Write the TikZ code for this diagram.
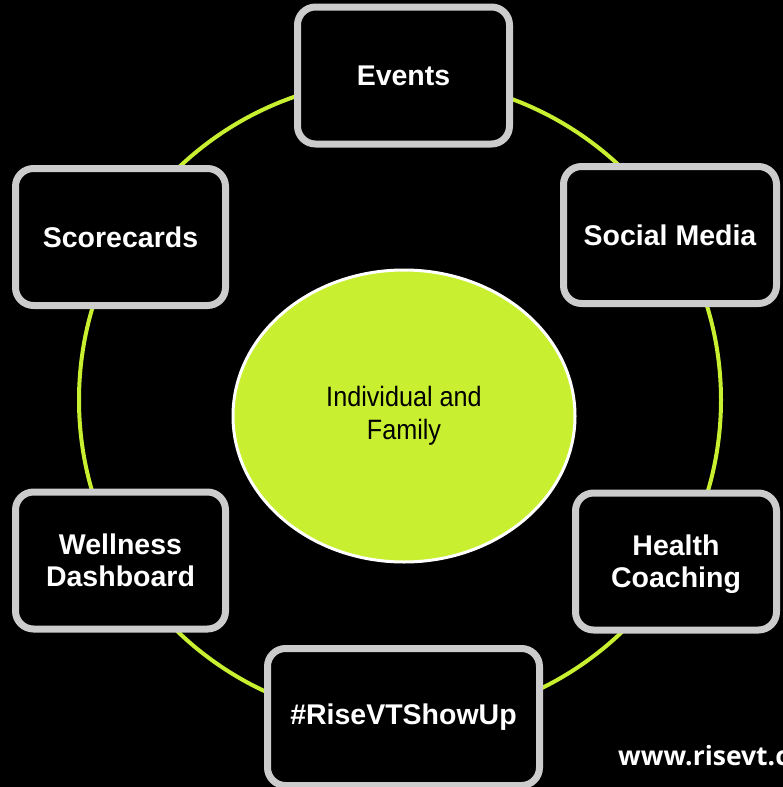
\documentclass[tikz,border=0pt]{standalone}
\usepackage{fontspec}
\setmainfont{Liberation Sans}
\newfontfamily\webfont{Open Sans}
\usetikzlibrary{shapes.geometric}
\definecolor{lime}{HTML}{C8F031}
\definecolor{frame}{HTML}{CCCCCC}
\begin{document}
\begin{tikzpicture}[x=1pt,y=-1pt,
  topictext/.style={text=white, align=center, inner sep=0pt,
    font=\fontsize{28.5}{32}\selectfont\bfseries},
  topic/.style={topictext, draw=frame, line width=7pt, fill=black,
    rounded corners=18pt, rectangle, minimum height=137pt},
  hub/.style={ellipse, draw=white, line width=3pt, fill=lime, inner sep=0pt,
    minimum width=342pt, minimum height=292pt, align=center,
    font=\fontsize{28}{33}\selectfont},
  ring/.style={draw=lime, line width=4pt}]
\useasboundingbox (0,0) rectangle (783,787);
\clip (0,0) rectangle (783,787);
\fill[black] (0,0) rectangle (783,787);

% outer ring linking the six topics
\coordinate (ringc) at (400,400);
\draw[ring] (ringc) circle[radius=321pt];

% centre
\node[hub] (core) at (404,416) {\scalebox{0.9}[1]{Individual and}\\\scalebox{0.9}[1]{Family}};

% topics around the ring
\node[topic, minimum width=212pt] (events) at (403.5,75.5) {Events};
\node[topic, minimum width=213pt] (social) at (670,235) {Social Media};
\node[topic, minimum width=201pt] (health) at (676,561.5) {};
\node[topictext] (healthtext) at ([yshift=-3pt]health.center) {Health\\Coaching};
\node[topic, minimum width=272pt] (rise)   at (403.5,717) {\#RiseVTShowUp};
\node[topic, minimum width=210pt] (well)   at (120.5,560.5) {Wellness\\Dashboard};
\node[topic, minimum width=210pt] (score)  at (120.5,237) {Scorecards};

% web address
\node[anchor=base west, inner sep=0pt, text=white,
  font=\webfont\fontsize{26.5}{30}\selectfont\bfseries] (web) at (618,765) {www.risevt.com};
\end{tikzpicture}
\end{document}
